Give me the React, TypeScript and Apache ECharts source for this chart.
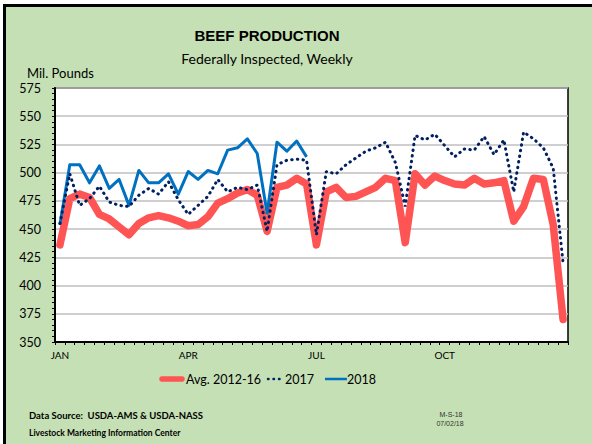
import React, { useEffect, useRef } from "react";
import * as echarts from "echarts";

// 52 weekly categories
const weeks: string[] = Array.from({ length: 52 }, (_, i) => `Week ${i + 1}`);
// month tick labels by category index
const monthLabels: Record<number, string> = { 0: "JAN", 13: "APR", 26: "JUL", 39: "OCT" };

const yMin = 350;
const yMax = 575;
const yStep = 25;

const avg2012_16 = [
  436, 477, 481, 478, 463, 459, 452, 445, 455, 460, 462, 460, 457,
  453, 454, 461, 473, 477, 482, 485, 480, 448, 487, 489, 495, 490,
  436, 483, 487, 478, 479, 483, 487, 495, 493, 438, 499, 489, 497,
  493, 490, 489, 495, 490, 491, 493, 457, 470, 495, 494, 454, 370,
];

const y2017 = [
  455, 499, 471, 477, 488, 474, 471, 470, 480, 486, 481, 492, 476,
  463, 471, 479, 494, 483, 487, 485, 489, 448, 507, 511, 512, 511,
  445, 501, 499, 507, 513, 519, 522, 527, 509, 470, 533, 529, 534,
  524, 514, 521, 520, 532, 516, 529, 483, 536, 530, 522, 504, 420,
];

const y2018 = [
  454, 507, 507, 491, 506, 486, 494, 471, 502, 491, 491, 499, 481,
  501, 494, 502, 499, 520, 522, 530, 517, 464, 527, 519, 528, 514,
];

const RED = "#FF5454";
const NAVY = "#002060";
const BLUE = "#0070C0";

export default function App() {
  const ref = useRef<HTMLDivElement>(null);

  useEffect(() => {
    const chart = echarts.init(ref.current!, null, { renderer: "svg", width: 592, height: 444 });
    const txt = (x: number, y: number, text: string, o: any = {}) => ({
      type: "text",
      x,
      y,
      silent: true,
      style: {
        text,
        align: o.align || "left",
        verticalAlign: "middle",
        fontFamily: o.family || "Lato",
        fontSize: o.size || 12,
        fontWeight: o.weight || "normal",
        fill: o.color || "#000",
      },
    });
    chart.setOption({
      animation: false,
      backgroundColor: "transparent",
      grid: {
        left: 55,
        right: 24,
        top: 88,
        bottom: 102,
        show: true,
        backgroundColor: "#fff",
        borderColor: "#000",
        borderWidth: 1.5,
      },
      xAxis: {
        type: "category",
        data: weeks,
        boundaryGap: true,
        axisLine: { show: true, lineStyle: { color: "#000", width: 2 } },
        axisTick: { show: true, interval: 0, length: 3, lineStyle: { color: "#000", width: 1 } },
        axisLabel: {
          interval: (i: number) => monthLabels[i] !== undefined,
          formatter: (_v: string, i: number) => monthLabels[i] ?? "",
          fontFamily: "Lato",
          fontSize: 10,
          color: "#000",
          margin: 8,
        },
        splitLine: { show: false },
      },
      yAxis: {
        type: "value",
        min: yMin,
        max: yMax,
        interval: yStep,
        axisLine: { show: true, lineStyle: { color: "#000", width: 2 } },
        axisTick: { show: true, length: 3, lineStyle: { color: "#000" } },
        minorTick: { show: true, splitNumber: 5, length: 3, lineStyle: { color: "#000" } },
        splitLine: { show: true, lineStyle: { color: "#BFBFBF", width: 1.5 } },
        axisLabel: { fontFamily: "Lato", fontSize: 12.5, color: "#000", margin: 14 },
      },
      series: [
        {
          name: "Avg. 2012-16",
          type: "line",
          data: avg2012_16,
          symbol: "none",
          z: 2,
          lineStyle: { color: RED, width: 7.5, join: "round", cap: "round" },
        },
        {
          name: "2018",
          type: "line",
          data: y2018,
          symbol: "none",
          z: 3,
          lineStyle: { color: BLUE, width: 3, join: "round" },
        },
        {
          name: "2017",
          type: "line",
          data: y2017,
          symbol: "none",
          z: 4,
          lineStyle: { color: NAVY, width: 3, type: [0.5, 5.2], cap: "round" },
        },
      ],
      graphic: [
        txt(267, 35, "BEEF PRODUCTION", { align: "center", family: "Liberation Sans", size: 15, weight: "bold" }),
        txt(267, 58, "Federally Inspected, Weekly", { align: "center", size: 14 }),
        txt(27, 73, "Mil. Pounds", { size: 13 }),
        {
          type: "line",
          silent: true,
          shape: { x1: 162, y1: 379, x2: 182, y2: 379 },
          style: { stroke: RED, lineWidth: 5.5, lineCap: "round" },
        },
        txt(186, 379, "Avg. 2012-16", { size: 12.5 }),
        {
          type: "line",
          silent: true,
          shape: { x1: 268, y1: 379, x2: 284, y2: 379 },
          style: { stroke: NAVY, lineWidth: 2.5, lineCap: "round", lineDash: [0.5, 5] },
        },
        txt(285, 379, "2017", { size: 12.5 }),
        {
          type: "line",
          silent: true,
          shape: { x1: 325, y1: 379, x2: 347, y2: 379 },
          style: { stroke: BLUE, lineWidth: 2.5 },
        },
        txt(347, 379, "2018", { size: 12.5 }),
        txt(29, 415, "Data Source:  USDA-AMS & USDA-NASS", { size: 9.5, weight: "bold" }),
        txt(29, 433, "Livestock Marketing Information Center", { size: 8.5, weight: "bold" }),
        txt(451, 414, "M-S-18", { align: "center", family: "Liberation Sans", size: 7, color: "#333" }),
        txt(450, 423, "07/02/18", { align: "center", family: "Liberation Sans", size: 7, color: "#333" }),
      ],
    });
    return () => chart.dispose();
  }, []);

  return (
    <div style={{ position: "fixed", left: 0, top: 0, width: 592, height: 444, background: "#fff", overflow: "hidden" }}>
      <div
        style={{
          position: "absolute",
          left: 3,
          top: 4,
          right: 0,
          bottom: 0,
          background: "#C5E0B4",
          borderTop: "3px solid #000",
          borderLeft: "3px solid #000",
        }}
      />
      <div ref={ref} style={{ position: "absolute", left: 0, top: 0, width: 592, height: 444 }} />
    </div>
  );
}
